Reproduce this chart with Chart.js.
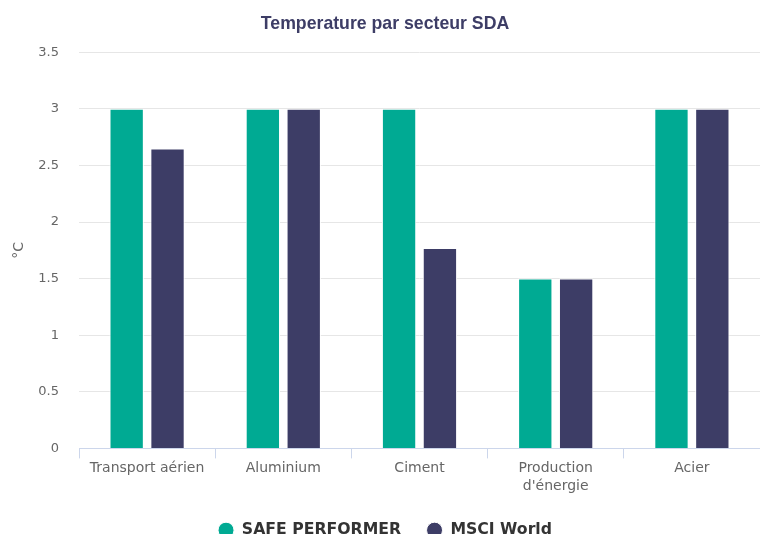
<!DOCTYPE html>
<html>
<head>
<meta charset="utf-8">
<script src="https://cdn.jsdelivr.net/npm/chart.js@4"></script>
<style>
  html, body { margin: 0; padding: 0; background: #fff; }
  #wrap { width: 760px; height: 534px; position: relative; }
</style>
</head>
<body>
<div id="wrap"><canvas id="sdaChart"></canvas></div>
<script>
// DATA
const sectors = ["Transport aérien", "Aluminium", "Ciment", ["Production", "d'énergie"], "Acier"];
const safePerformer = [3, 3, 3, 1.5, 3];
const msciWorld = [2.65, 3, 1.77, 1.5, 3];
const yTicks = [0, 0.5, 1, 1.5, 2, 2.5, 3, 3.5];

const GREEN = '#00aa93';
const NAVY = '#3d3d66';

const ctx = document.getElementById('sdaChart').getContext('2d');
const sdaChart = new Chart(ctx, {
  type: 'bar',
  data: {
    labels: sectors,
    datasets: [
      { label: 'SAFE PERFORMER', data: safePerformer, backgroundColor: GREEN, borderColor: '#ffffff', borderWidth: 1 },
      { label: 'MSCI World', data: msciWorld, backgroundColor: NAVY, borderColor: '#ffffff', borderWidth: 1 }
    ]
  },
  options: {
    responsive: true,
    maintainAspectRatio: false,
    animation: false,
    datasets: { bar: { categoryPercentage: 0.6, barPercentage: 0.84 } },
    layout: { padding: { left: 10, right: 0, top: 0, bottom: -14 } },
    plugins: {
      title: {
        display: true,
        text: 'Temperature par secteur SDA',
        color: NAVY,
        font: { family: '"Liberation Sans", Arial, sans-serif', size: 17.7, weight: 'bold' },
        padding: { top: 13, bottom: 18 }
      },
      legend: {
        position: 'bottom',
        labels: {
          usePointStyle: true,
          pointStyle: 'circle',
          pointStyleWidth: 16,
          boxWidth: 16,
          boxHeight: 11.3,
          padding: 25.5,
          color: '#333333',
          font: { family: '"DejaVu Sans", sans-serif', size: 15.7, weight: 'bold' }
        }
      },
      tooltip: { enabled: false }
    },
    scales: {
      x: {
        grid: { offset: true, drawOnChartArea: false, drawTicks: true, tickLength: 10, color: '#ccd6eb' },
        border: { color: '#ccd6eb' },
        ticks: { color: '#666666', padding: 1, font: { family: '"DejaVu Sans", sans-serif', size: 14, lineHeight: 1.3 } }
      },
      y: {
        min: 0,
        max: 3.5,
        afterBuildTicks: axis => { axis.ticks = yTicks.map(v => ({ value: v })); },
        afterFit: axis => { axis.width = 69; },
        grid: { color: '#e6e6e6', drawTicks: false },
        border: { display: false },
        title: { display: true, text: '°C', color: '#666666', font: { family: '"DejaVu Sans", sans-serif', size: 14 }, padding: { top: 1, bottom: 0 } },
        ticks: { color: '#666666', padding: 20, callback: v => String(v), font: { family: '"DejaVu Sans", sans-serif', size: 13 } }
      }
    }
  }
});
</script>
</body>
</html>
